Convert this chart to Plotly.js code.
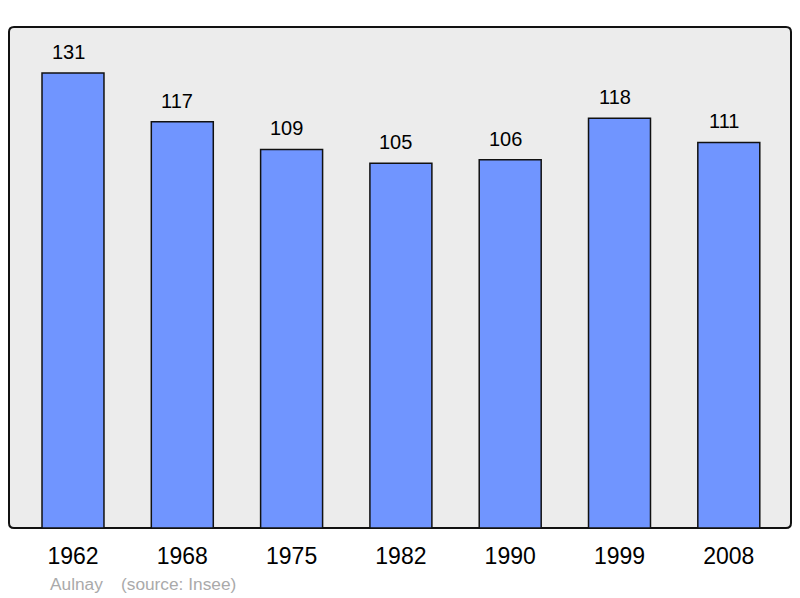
<!DOCTYPE html>
<html><head><meta charset="utf-8">
<script src="https://cdn.plot.ly/plotly-3.0.1.min.js"></script>
<style>html,body{margin:0;padding:0;background:#fff}</style>
</head><body>
<div id="chart" style="width:800px;height:598px"></div>
<script>
const years = ["1962","1968","1975","1982","1990","1999","2008"];
const population = [131,117,109,105,106,118,111];
const placeName = "Aulnay";
const sourceText = "(source: Insee)";

const FONT = "Liberation Sans, Arial, sans-serif";
const xs = years.map((_, i) => i);

const trace = {
  type: 'bar',
  x: xs,
  y: population,
  width: 0.567,
  marker: {color: '#7095ff', line: {color: '#111', width: 1.5}},
  hoverinfo: 'skip'
};

const annotations = population.map((v, i) => ({
  x: i, y: v, xref: 'x', yref: 'y', text: String(v), showarrow: false,
  xanchor: 'center', yanchor: 'bottom', yshift: 8, xshift: -5,
  font: {family: FONT, size: 20, color: '#000'}
}));
annotations.push({
  xref: 'paper', yref: 'paper', x: (48-9)/782, y: -0.1118, xanchor: 'left', yanchor: 'middle',
  text: placeName, showarrow: false, font: {family: FONT, size: 17.3, color: '#aaaaaa'}
});
annotations.push({
  xref: 'paper', yref: 'paper', x: (119-9)/782, y: -0.1118, xanchor: 'left', yanchor: 'middle',
  text: sourceText, showarrow: false, font: {family: FONT, size: 17.3, color: '#aaaaaa'}
});

const rx = 5/782, ry = 5/501;
const borderPath = `M ${rx} 1 L ${1-rx} 1 Q 1 1 1 ${1-ry} L 1 ${ry} Q 1 0 ${1-rx} 0 L ${rx} 0 Q 0 0 0 ${ry} L 0 ${1-ry} Q 0 1 ${rx} 1 Z`;

const layout = {
  width: 800, height: 598,
  margin: {l: 9, r: 9, t: 27, b: 70, pad: 0},
  paper_bgcolor: '#ffffff', plot_bgcolor: '#ffffff',
  showlegend: false,
  xaxis: {
    range: [-0.5855, 6.569], tickvals: xs, ticktext: years,
    showgrid: false, zeroline: false, showline: false, ticks: '',
    ticklabelstandoff: 12,
    tickfont: {family: FONT, size: 23, color: '#000'}, fixedrange: true
  },
  yaxis: {
    range: [0, 144.25], showgrid: false, zeroline: false, showline: false,
    showticklabels: false, ticks: '', fixedrange: true
  },
  shapes: [{
    type: 'path', xref: 'paper', yref: 'paper', path: borderPath,
    line: {color: '#111', width: 2}, fillcolor: '#ececec', layer: 'below'
  }],
  annotations: annotations
};

Plotly.newPlot('chart', [trace], layout, {displayModeBar: false, staticPlot: true});
</script>
</body></html>
